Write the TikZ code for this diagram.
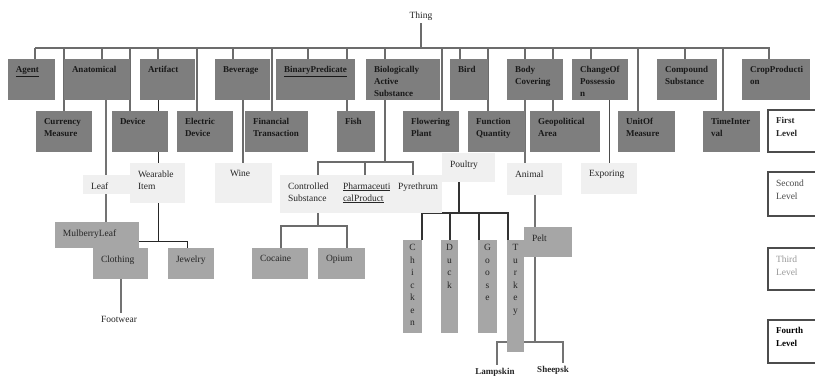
\documentclass[tikz,border=0pt]{standalone}
\usepackage{fontspec}
\setmainfont{Liberation Serif}
\usetikzlibrary{calc,backgrounds}

\definecolor{darkfill}{RGB}{126,126,126}
\definecolor{midfill}{RGB}{166,166,166}
\definecolor{lightfill}{RGB}{240,240,240}
\definecolor{linegray}{RGB}{108,108,108}

% box with its text set at the top left corner
\newcommand\tbox[7]{%
  \node[#1box, minimum width={(#5-#3)*1pt}, minimum height={(#6-#4)*1pt}]
    (#2) at ({(#3+#5)/2},{(#4+#6)/2}) {};
  \node[#1text, anchor=north west] (#2-t) at (#2.north west) {#7};
}
% narrow box with its letters stacked in a column
\newcommand\lettercol[6]{%
  \node[mbox, minimum width={(#4-#2)*1pt}, minimum height={(#5-#3)*1pt}]
    (#1) at ({(#2+#4)/2},{(#3+#5)/2}) {};
  \node[vtext, anchor=north] (#1-t) at (#1.north) {#6};
}

\begin{document}
\begin{tikzpicture}[x=1pt,y=-1pt,
  base/.style={rectangle, inner sep=0pt, outer sep=0pt},
  dbox/.style={base, fill=darkfill},
  mbox/.style={base, fill=midfill},
  lbox/.style={base, fill=lightfill},
  legbox/.style={base, fill=white, draw=black!70, line width=1.1pt},
  g1box/.style={legbox}, g2box/.style={legbox}, g3box/.style={legbox}, g4box/.style={legbox},
  txt/.style={inner xsep=8pt, inner ysep=7.5pt, outer sep=0pt, align=left},
  dtext/.style={txt, font=\fontsize{9}{12}\selectfont\bfseries, text=black!90},
  mtext/.style={txt, font=\fontsize{9.5}{12}\selectfont, text=black!85},
  ltext/.style={txt, font=\fontsize{9.5}{12}\selectfont, text=black!85},
  g1text/.style={txt, font=\fontsize{9}{13}\selectfont\bfseries, text=black!85},
  g2text/.style={txt, font=\fontsize{9.5}{13}\selectfont, text=black!70},
  g3text/.style={txt, font=\fontsize{9.5}{13}\selectfont, text=black!40},
  g4text/.style={txt, font=\fontsize{9}{13}\selectfont\bfseries, text=black},
  vtext/.style={inner xsep=0pt, inner ysep=4.5pt, outer sep=0pt, align=center,
    font=\fontsize{9.5}{12.5}\selectfont, text=black!85},
  plain/.style={inner sep=3pt, outer sep=0pt, font=\fontsize{9.5}{12}\selectfont, text=black!85},
  plainb/.style={inner sep=3pt, outer sep=0pt, font=\fontsize{9}{12}\selectfont\bfseries, text=black!85},
  conn/.style={draw=linegray, line width=1.8pt},
  thinconn/.style={draw=black!55, line width=1.2pt},
  blackconn/.style={draw=black!85, line width=0.9pt},
  darkthin/.style={draw=black!70, line width=1pt},
  darkconn/.style={draw=black!80, line width=1.6pt}
]
\useasboundingbox (0,0) rectangle (815,381);

% root
\node[plain] (thing) at (421,16) {Thing};

% first row
\tbox{d}{agent}{8}{59}{55}{100}{\underline{Agent}}
\tbox{d}{anat}{64}{59}{130}{100}{Anatomical}
\tbox{d}{artf}{140}{59}{195}{100}{Artifact}
\tbox{d}{bev}{215}{59}{270}{100}{Beverage}
\tbox{d}{binp}{276}{59}{355}{100}{\underline{BinaryPredicate}}
\tbox{d}{bas}{366}{59}{440}{100}{Biologically\\Active\\Substance}
\tbox{d}{bird}{450}{59}{488}{100}{Bird}
\tbox{d}{body}{507}{59}{563}{100}{Body\\Covering}
\tbox{d}{chg}{572}{59}{628}{100}{ChangeOf\\Possessio\\n}
\tbox{d}{comp}{657}{59}{717}{100}{Compound\\Substance}
\tbox{d}{crop}{742}{59}{810}{100}{CropProducti\\on}

% second row
\tbox{d}{curr}{36}{111}{92}{152}{Currency\\Measure}
\tbox{d}{dev}{112}{111}{168}{152}{Device}
\tbox{d}{elec}{177}{111}{233}{152}{Electric\\Device}
\tbox{d}{fin}{245}{111}{308}{152}{Financial\\Transaction}
\tbox{d}{fish}{337}{111}{375}{152}{Fish}
\tbox{d}{flow}{403}{111}{459}{152}{Flowering\\Plant}
\tbox{d}{func}{468}{111}{525}{152}{Function\\Quantity}
\tbox{d}{geo}{530}{111}{600}{152}{Geopolitical\\Area}
\tbox{d}{unit}{618}{111}{675}{152}{UnitOf\\Measure}
\tbox{d}{time}{703}{111}{760}{152}{TimeInter\\val}

% third level
\tbox{l}{leaf}{83}{175}{130}{194}{Leaf}
\tbox{l}{wear}{130}{163}{185}{203}{Wearable\\Item}
\tbox{l}{wine}{215}{163}{272}{203}{\hspace{7pt}Wine}
\tbox{l}{ctrl}{280}{175}{335}{213}{Controlled\\Substance}
\tbox{l}{pharm}{335}{175}{390}{213}{\underline{Pharmaceuti}\\\underline{calProduct}}
\tbox{l}{pyr}{390}{175}{442}{213}{Pyrethrum}
\tbox{l}{poul}{442}{153}{495}{182}{Poultry}
\tbox{l}{anim}{507}{163}{562}{195}{Animal}
\tbox{l}{expo}{581}{163}{637}{194}{Exporing}

% fourth level
\tbox{m}{mulb}{55}{222}{139}{248}{MulberryLeaf}
\tbox{m}{cloth}{93}{248}{148}{279}{Clothing}
\tbox{m}{jewel}{168}{248}{214}{279}{Jewelry}
\tbox{m}{coca}{252}{248}{308}{279}{Cocaine}
\tbox{m}{opium}{318}{248}{365}{279}{Opium}
\lettercol{chick}{403}{240}{422}{333}{C\\h\\i\\c\\k\\e\\n}
\lettercol{duck}{441}{240}{458}{333}{D\\u\\c\\k}
\lettercol{goose}{478}{240}{497}{333}{G\\o\\o\\s\\e}
\lettercol{turk}{507}{240}{524}{352}{T\\u\\r\\k\\e\\y}
\tbox{m}{pelt}{524}{227}{572}{257}{Pelt}

\node[plain, anchor=north] (foot) at (119,313) {Footwear};
\node[plainb, anchor=north] (lamp) at (495,365) {Lampskin};
\node[plainb, anchor=north] (sheep) at (553,363) {Sheepsk};

% legend
\tbox{g1}{first}{768}{110}{822}{152}{First\\Level}
\tbox{g2}{second}{768}{172}{822}{216}{Second\\Level}
\tbox{g3}{third}{768}{248}{822}{290}{Third\\Level}
\tbox{g4}{fourth}{768}{320}{822}{363}{Fourth\\Level}

\begin{pgfonlayer}{background}
  \fill[white] (0,0) rectangle (815,381);
  % bus from the root to the first two rows
  \coordinate (busL) at (35,48);
  \coordinate (busR) at (769,48);
  \draw[conn] (thing.south) -- (thing.south |- busL);
  \draw[conn] (busL) -- (busR);
  \foreach \n/\dx in {agent/27, curr/28, anat/38, dev/18, artf/18, elec/20,
      bev/18, fin/27, binp/32, fish/10, bas/19, flow/39, bird/10, func/20,
      body/18, geo/23, chg/19, unit/20, comp/28, time/20, crop/27}
    \draw[conn] ($(\n.north west)+(\dx,0)$) |- (busL);

  % Anatomical branch
  \draw[thinconn] ($(anat.south west)+(42,0)$) -- ($(leaf.north west)+(23,0)$);
  \draw[thinconn] ($(leaf.south west)+(23,0)$) -- ($(mulb.north west)+(51,0)$);

  % Artifact branch
  \draw[blackconn] ($(artf.south west)+(18,0)$) -- ($(wear.north west)+(28,0)$);
  \draw[blackconn] ($(wear.south west)+(28,0)$) -- ($(wear.south west)+(28,38)$) coordinate (wj);
  \draw[blackconn] (wj) -| ($(cloth.north west)+(28,0)$);
  \draw[blackconn] (wj) -| ($(jewel.north west)+(19,0)$);
  \coordinate (cf) at ($(cloth.south west)+(28,0)$);
  \draw[thinconn] (cf) -- (cf |- foot.north);

  % Beverage branch
  \draw[conn] ($(bev.south west)+(28,0)$) -- ($(wine.north west)+(28,0)$);

  % Biologically Active Substance branch
  \draw[conn] ($(bas.south west)+(19,0)$) -- ($(bas.south west)+(19,62)$) coordinate (bj);
  \draw[conn] (bj) -| ($(ctrl.north west)+(38,0)$);
  \draw[conn] (bj) -| ($(pharm.north west)+(30,0)$);
  \draw[conn] (bj) -| ($(pyr.north west)+(23,0)$);
  \draw[conn] ($(ctrl.south west)+(38,0)$) -- ($(ctrl.south west)+(38,13)$) coordinate (cj);
  \draw[conn] (cj) -| ($(coca.north west)+(29,0)$);
  \draw[conn] (cj) -| ($(opium.north west)+(29,0)$);

  % Poultry branch
  \draw[darkconn] ($(poul.south west)+(17,0)$) -- ($(poul.south west)+(17,31)$) coordinate (pj);
  \draw[darkconn] (pj) -| ($(chick.north west)+(19,0)$);
  \draw[darkconn] (pj) -| ($(duck.north west)+(9,0)$);
  \draw[darkconn] (pj) -| ($(goose.north west)+(1,0)$);
  \draw[darkconn] (pj) -| ($(turk.north west)+(1,0)$);

  % Body Covering branch
  \draw[thinconn] ($(body.south west)+(18,0)$) -- ($(anim.north west)+(18,0)$);
  \draw[thinconn] ($(anim.south west)+(28,0)$) -- ($(pelt.north west)+(11,0)$);
  \draw[thinconn] ($(pelt.south west)+(11,0)$) -- ($(pelt.south west)+(11,85)$) coordinate (aj);
  \draw[thinconn] (aj) -| ($(lamp.north)+(2,0)$);
  \draw[thinconn] (aj) -| ($(sheep.north)+(10,0)$);

  % Change of possession branch
  \draw[darkthin] ($(chg.south west)+(37,0)$) -- ($(expo.north west)+(28,0)$);
\end{pgfonlayer}
\end{tikzpicture}
\end{document}
